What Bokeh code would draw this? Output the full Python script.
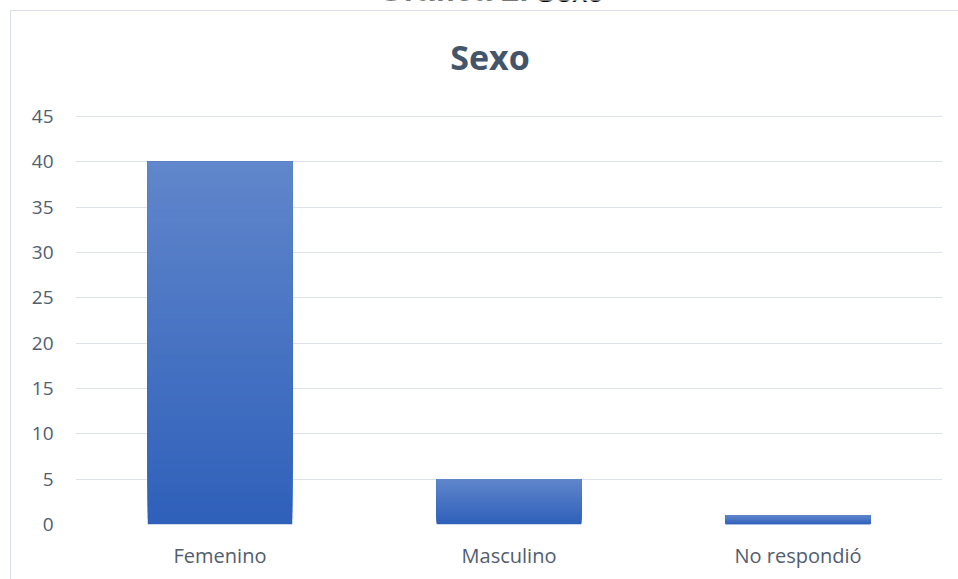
from bokeh.plotting import figure
from bokeh.models import Range1d, FactorRange, Label, InlineStyleSheet
from bokeh.embed import file_html
from bokeh.resources import INLINE

categories = ["Femenino", "Masculino", "No respondió"]
counts = [40, 5, 1]
y_ticks = [0, 5, 10, 15, 20, 25, 30, 35, 40, 45]
chart_title = "Sexo"
caption_bold = "Gráfica 2."
caption_text = "Sexo"

TOP_COLOR = (0x60, 0x86, 0xCB)
BOTTOM_COLOR = (0x2F, 0x60, 0xBA)
TEXT_COLOR = "#515D70"
TITLE_COLOR = "#44546A"
GRID_COLOR = "#DEE2EA"
BORDER_COLOR = "#D9DEE8"
FONT = "Open Sans"

W, H = 958, 579
LEFT, RIGHT, BOTTOM = 75, 16, 55
PX_PER_UNIT = 408 / 45          # 45 units span 408 px on the value axis
frame_w = W - LEFT - RIGHT
frame_h = H - BOTTOM            # frame reaches the top edge of the page
Y_MAX = frame_h / PX_PER_UNIT

p = figure(
    x_range=FactorRange(factors=categories),
    y_range=Range1d(0, Y_MAX),
    width=W, height=H,
    output_backend="svg", toolbar_location=None,
    min_border_left=LEFT, min_border_right=RIGHT,
    min_border_top=0, min_border_bottom=BOTTOM,
    background_fill_color="white", border_fill_color="white",
)
p.outline_line_color = None

# pixel -> data helpers (annotation placement only)
def cx(px):
    return (px - LEFT) / frame_w * len(categories)
def cy(py):
    return (frame_h - py) / PX_PER_UNIT

# gradient bars built from slices of each value (each slice reaches the top)
N = 60
xs, bots, tops, cols = [], [], [], []
for cat, v in zip(categories, counts):
    for i in range(N):
        f = i / (N - 1)
        c = tuple(int(round(BOTTOM_COLOR[k] + (TOP_COLOR[k] - BOTTOM_COLOR[k]) * f)) for k in range(3))
        xs.append(cat)
        bots.append(v * i / N)
        tops.append(v)
        cols.append("#%02x%02x%02x" % c)
p.vbar(x=xs, bottom=bots, top=tops, width=0.5, fill_color=cols, line_color=None)

# axes
p.yaxis.ticker = y_ticks
for ax in (p.xaxis[0], p.yaxis[0]):
    ax.axis_line_color = None
    ax.major_tick_line_color = None
    ax.minor_tick_line_color = None
    ax.major_tick_out = 0
    ax.major_tick_in = 0
    ax.major_label_text_font = FONT
    ax.major_label_text_color = TEXT_COLOR
p.yaxis.major_label_text_font_size = "19px"
p.xaxis.major_label_text_font_size = "20px"
p.yaxis.major_label_standoff = 22
p.xaxis.major_label_standoff = 17
p.xgrid.grid_line_color = None
p.ygrid.grid_line_color = GRID_COLOR
p.ygrid.grid_line_width = 1.2

# chart border drawn with CSS around the chart area
p.stylesheets = [InlineStyleSheet(css=f"""
:host {{ position: relative; }}
:host::after {{
  content: '';
  position: absolute;
  left: 10px; top: 10px; width: {W + 20}px; height: {H + 20}px;
  border: 1.5px solid {BORDER_COLOR};
  box-sizing: border-box;
  pointer-events: none;
  z-index: 10;
}}
""")]

# chart title
p.add_layout(Label(
    x=cx(489.5), y=cy(56.5),
    text=chart_title, text_font=FONT, text_font_style="bold", text_font_size="34px",
    text_color=TITLE_COLOR, text_align="center", text_baseline="alphabetic",
))

# caption above the chart (mostly cut off at the top of the page)
p.add_layout(Label(
    x=cx(528), y=cy(-11),
    text=caption_bold, text_font="Liberation Sans", text_font_style="bold", text_font_size="33px",
    text_color="black", text_align="right", text_baseline="alphabetic",
))
p.add_layout(Label(
    x=cx(535), y=cy(-9.5),
    text=caption_text, text_font="Liberation Sans", text_font_size="30px",
    text_color="black", text_align="left", text_baseline="alphabetic",
))

open("out.html", "w").write(file_html(p, INLINE))
